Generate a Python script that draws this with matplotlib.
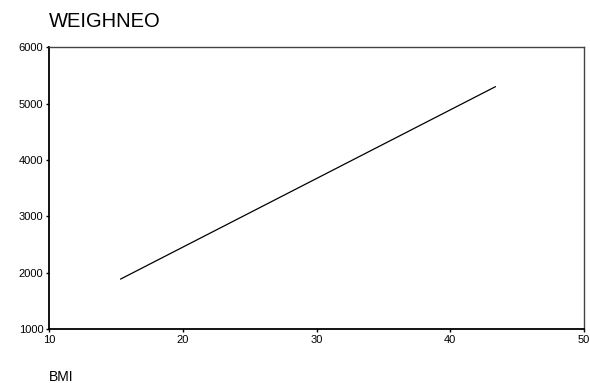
import matplotlib
matplotlib.use("Agg")
import matplotlib.pyplot as plt

BMI = [15.36, 43.37]
WEIGHNEO = [1887, 5300]
X_TICKS = [10, 20, 30, 40, 50]
Y_TICKS = [1000, 2000, 3000, 4000, 5000, 6000]

plt.rcParams["font.family"] = ["Liberation Sans", "DejaVu Sans"]

fig = plt.figure(figsize=(5.9, 3.83), dpi=100)
ax = fig.add_axes([49 / 590, 1 - 329 / 383, (584 - 49) / 590, (329 - 47.3) / 383])

ax.plot(BMI, WEIGHNEO, color="black", linewidth=0.9)

ax.set_xlim(10, 50)
ax.set_ylim(1000, 6000)
ax.set_xticks(X_TICKS)
ax.set_yticks(Y_TICKS)
ax.tick_params(axis="both", direction="out", length=2.5, width=1, labelsize=8, pad=1.5)

for side in ["left", "bottom"]:
	ax.spines[side].set_linewidth(1.3)
	ax.spines[side].set_color("black")
for side in ["top", "right"]:
	ax.spines[side].set_linewidth(1.0)
	ax.spines[side].set_color("#444444")

fig.text(49 / 590, 1 - 21.5 / 383, "WEIGHNEO", fontsize=14.5, ha="left", va="center")
fig.text(49 / 590, 1 - 377 / 383, "BMI", fontsize=10, ha="left", va="center")

fig.savefig("out.png", dpi=100)
